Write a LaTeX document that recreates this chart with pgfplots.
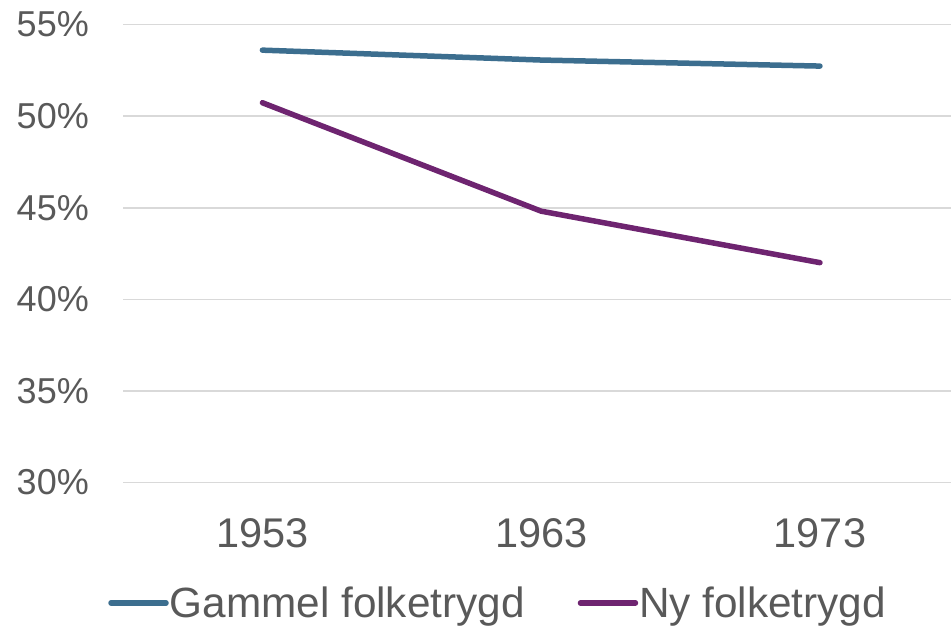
\documentclass[border=0pt]{standalone}
\usepackage{pgfplots}
\pgfplotsset{compat=1.18}
\usepackage{fontspec}
\setmainfont{Liberation Sans}
\definecolor{gammel}{HTML}{3C6E8F}
\definecolor{ny}{HTML}{6E2470}
\definecolor{txt}{HTML}{595959}
\definecolor{grd}{HTML}{D9D9D9}
\begin{document}
\begin{tikzpicture}[x=1pt,y=1pt]
\useasboundingbox (0,0) rectangle (951,627);
\begin{axis}[
  at={(123pt,144.5pt)}, anchor=south west,
  scale only axis, width=828pt, height=458pt,
  xmin=-0.5, xmax=2.47, ymin=30, ymax=55,
  xtick={0,1,2}, xticklabels={1953,1963,1973},
  ytick={30,35,40,45,50,55},
  yticklabels={30\%,35\%,40\%,45\%,50\%,55\%},
  /pgf/number format/assume math mode=true,
  axis line style={draw=none},
  major tick length=0pt,
  ymajorgrids, grid style={grd, line width=1.6pt},
  yticklabel style={inner sep=0pt, xshift=-34pt, font=\fontsize{36}{40}\selectfont, text=txt},
  xticklabel style={inner sep=0pt, yshift=-36pt, font=\fontsize{41.5}{46}\selectfont, text=txt},
  legend columns=2,
  legend style={at={(0.4525,-0.263)}, anchor=center, draw=none, fill=none,
    font=\fontsize{42.3}{46}\selectfont, text=txt, inner sep=0pt,
    /tikz/every node/.append style={inner sep=1pt},
    /tikz/column 2/.style={column sep=52pt}},
  legend image code/.code={\draw[#1, line cap=round] (0pt,0pt) -- (55pt,0pt);},
  clip=false,
]
\addplot[gammel, line width=5.5pt, line cap=round, line join=round] coordinates {(0,53.6) (1,53.06) (2,52.73)};
\addlegendentry{Gammel folketrygd}
\addplot[ny, line width=5.5pt, line cap=round, line join=round] coordinates {(0,50.73) (1,44.81) (2,42.0)};
\addlegendentry{Ny folketrygd}
\end{axis}
\end{tikzpicture}
\end{document}
